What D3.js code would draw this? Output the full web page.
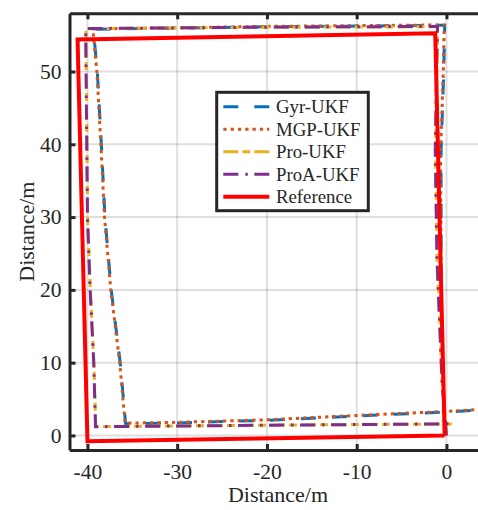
<!DOCTYPE html>
<html>
<head>
<meta charset="utf-8">
<script src="https://cdn.jsdelivr.net/npm/d3@7"></script>
<style>
  body { margin: 0; background: #fff; }
  svg { display: block; }
  text { font-family: "Liberation Serif", "Times New Roman", serif; fill: #262626; }
</style>
</head>
<body>
<svg id="chart" width="478" height="510"></svg>
<script>
// trajectories (x, y in metres)
const gyrX = [-0.2, -0.3, -0.6, -0.6, -0.3, -0.2, -20, -39.35, -38.9, -38.45, -38.05, -37.35, -36.35, -35.85, -35.75, -30, -20, -10, 0, 5];
const gyrY = [0.0, 5, 20, 39, 50, 56.35, 56.15, 55.8, 50, 40, 30, 20, 10, 3, 1.6, 1.72, 2.08, 2.68, 3.22, 3.58];
const mgpX = [-0.2, -0.3, -0.6, -0.65, -0.35, -0.25, -20, -39.4, -38.95, -38.5, -38.1, -37.4, -36.4, -35.9, -35.8, -30, -20, -10, 0, 5];
const mgpY = [0.0, 5, 20, 39, 50, 56.4, 56.2, 55.85, 50, 40, 30, 20, 10, 3, 1.68, 1.8, 2.15, 2.75, 3.3, 3.65];
const proX = [0.03, -0.48, -1.03, -1.22, -1.08, -0.98, -20, -40.17, -39.98, -39.68, -39.28, -39.08, -20, 0.75];
const proY = [0.0, 7.5, 24, 39, 50, 56.15, 56.08, 55.88, 30, 20, 10, 1.22, 1.41, 1.58];
const proaX = [0.0, -0.5, -1.05, -1.25, -1.1, -1.0, -20, -40.2, -40.0, -39.7, -39.3, -39.1, -20, 0.8];
const proaY = [0.0, 7.5, 24, 39, 50, 56.2, 56.1, 55.9, 30, 20, 10, 1.2, 1.4, 1.6];
const refX = [-0.2, -1.25, -41.1, -40.0, -0.2];
const refY = [0.0, 55.25, 54.4, -0.8, 0.0];

const seriesNames = ["Gyr-UKF", "MGP-UKF", "Pro-UKF", "ProA-UKF", "Reference"];
const xTicks = [-40, -30, -20, -10, 0];
const yTicks = [0, 10, 20, 30, 40, 50];
const xDomain = [-42, 4.5];
const yDomain = [-2, 58];

const styles = [
  { color: "#0072BD", width: 3, dash: "15,16" },
  { color: "#D95319", width: 3, dash: "3.3,4" },
  { color: "#EDB120", width: 3, dash: "15,4,8,4" },
  { color: "#7E2F8E", width: 3, dash: "15,7,2.5,6.5" },
  { color: "#FF0000", width: 4, dash: null }
];

const series = [
  gyrX.map((x, i) => [x, gyrY[i]]),
  mgpX.map((x, i) => [x, mgpY[i]]),
  proX.map((x, i) => [x, proY[i]]),
  proaX.map((x, i) => [x, proaY[i]]),
  refX.map((x, i) => [x, refY[i]])
];

const svg = d3.select("#chart");
const plot = { left: 69.5, top: 13.3, bottom: 450 };

const x = d3.scaleLinear().domain(xDomain).range([plot.left, plot.left + (xDomain[1] - xDomain[0]) * 8.975]);
const y = d3.scaleLinear().domain(yDomain).range([plot.bottom, plot.top]);
const right = x(xDomain[1]);

svg.append("defs").append("clipPath").attr("id", "clip")
  .append("rect")
  .attr("x", plot.left).attr("y", plot.top)
  .attr("width", right - plot.left).attr("height", plot.bottom - plot.top);

// grid
const grid = svg.append("g").attr("stroke", "#262626").attr("stroke-opacity", 0.15).attr("stroke-width", 2);
grid.selectAll(".gx").data(xTicks).enter().append("line")
  .attr("x1", d => x(d)).attr("x2", d => x(d))
  .attr("y1", plot.top).attr("y2", plot.bottom);
grid.selectAll(".gy").data(yTicks).enter().append("line")
  .attr("y1", d => y(d)).attr("y2", d => y(d))
  .attr("x1", plot.left).attr("x2", right);

// lines
const line = d3.line().x(d => x(d[0])).y(d => y(d[1]));
const lines = svg.append("g").attr("clip-path", "url(#clip)");
series.forEach((pts, i) => {
  lines.append("path")
    .datum(pts)
    .attr("d", line)
    .attr("fill", "none")
    .attr("stroke", styles[i].color)
    .attr("stroke-width", styles[i].width)
    .attr("stroke-dasharray", styles[i].dash)
    .attr("stroke-linejoin", "miter");
});

// axes
const fmt = d => String(d);
function styleAxis(g) {
  g.select(".domain").attr("stroke", "#262626").attr("stroke-width", 3);
  g.selectAll(".tick line").attr("stroke", "#262626").attr("stroke-width", 3);
  g.selectAll(".tick text").attr("fill", "#262626").style("font-size", "21.5px")
    .style("font-family", '"Liberation Serif", "Times New Roman", serif');
}

svg.append("g")
  .attr("transform", `translate(0,${plot.bottom})`)
  .call(d3.axisBottom(x).tickValues(xTicks).tickFormat(fmt).tickSize(-6).tickSizeOuter(0).tickPadding(13.5))
  .call(styleAxis);

svg.append("g")
  .attr("transform", `translate(0,${plot.top})`)
  .call(d3.axisTop(x).tickValues(xTicks).tickFormat("").tickSize(-6).tickSizeOuter(0))
  .call(styleAxis);

svg.append("g")
  .attr("transform", `translate(${plot.left},0)`)
  .call(d3.axisLeft(y).tickValues(yTicks).tickFormat(fmt).tickSize(-6).tickSizeOuter(0).tickPadding(8))
  .call(styleAxis);

// axis labels
svg.append("text")
  .attr("x", 278).attr("y", 502)
  .attr("text-anchor", "middle")
  .style("font-size", "22px")
  .text("Distance/m");

svg.append("text")
  .attr("transform", `translate(34,${(plot.top + plot.bottom) / 2}) rotate(-90)`)
  .attr("text-anchor", "middle")
  .style("font-size", "22px")
  .text("Distance/m");

// legend
const legend = svg.append("g");
legend.append("rect")
  .attr("x", 216.7).attr("y", 92.3)
  .attr("width", 151.6).attr("height", 118.4)
  .attr("fill", "#fff").attr("stroke", "#262626").attr("stroke-width", 3);

seriesNames.forEach((name, i) => {
  const cy = 106.7 + i * 22.5;
  legend.append("line")
    .attr("x1", 223.3).attr("x2", 269.3)
    .attr("y1", cy).attr("y2", cy)
    .attr("stroke", styles[i].color)
    .attr("stroke-width", styles[i].width)
    .attr("stroke-dasharray", styles[i].dash);
  legend.append("text")
    .attr("x", 276).attr("y", cy + 6.6)
    .style("font-size", "18.8px")
    .text(name);
});
</script>
</body>
</html>
